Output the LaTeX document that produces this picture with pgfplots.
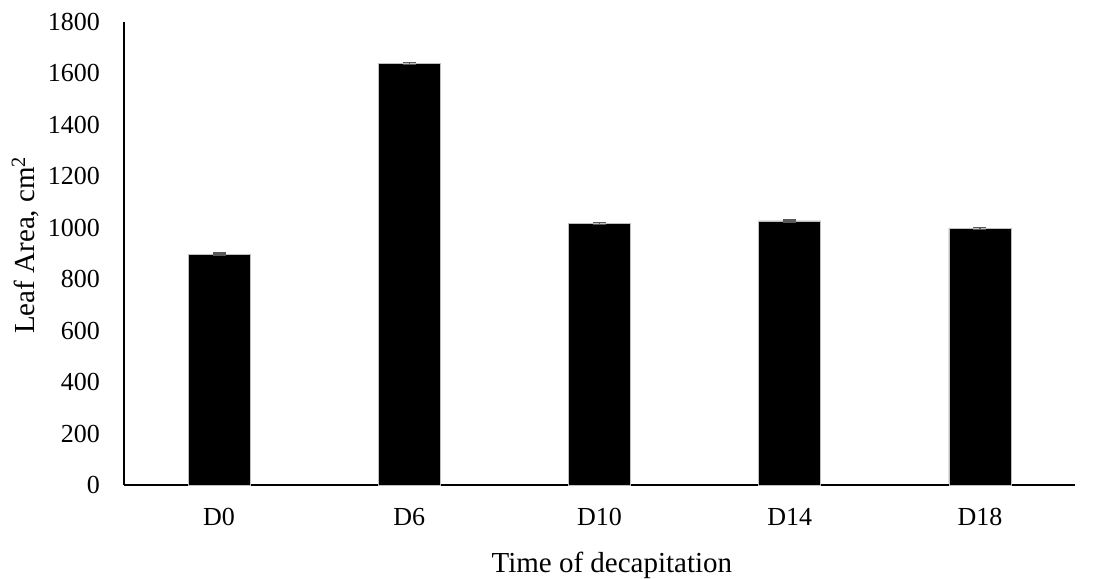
\documentclass[border=0pt]{standalone}
\usepackage{pgfplots}
\pgfplotsset{compat=1.18}
\usepackage{fontspec}
\setmainfont{Liberation Serif}
\begin{document}
\begin{tikzpicture}[x=1pt,y=1pt]
\useasboundingbox (0,0) rectangle (1097,578);
\begin{axis}[
  at={(124pt,93pt)}, anchor=south west,
  scale only axis, width=951pt, height=463pt,
  xmin=-0.5, xmax=4.5, ymin=0, ymax=1800,
  ytick={0,200,...,1800},
  xtick={0,1,2,3,4},
  xticklabels={D0,D6,D10,D14,D18},
  axis lines=left,
  axis line style={-, line width=1.2pt},
  major tick length=0pt,
  tick label style={font=\fontsize{26}{30}\selectfont},
  /pgf/number format/assume math mode=true,
  /pgf/number format/1000 sep={},
  yticklabel style={anchor=east, inner sep=0pt, xshift=-24pt},
  xticklabel style={anchor=base, inner sep=0pt, yshift=-40pt},
  ylabel={Leaf Area, cm\textsuperscript{2}},
  xlabel={Time of decapitation},
  label style={font=\fontsize{29}{34}\selectfont},
  ylabel style={at={(axis description cs:-0.0946,0.518)}, anchor=base, inner sep=0pt},
  xlabel style={at={(axis description cs:0.513,0)}, anchor=base, inner sep=0pt, yshift=-87pt},
  clip=false,
]
\addplot[ybar, bar width=62pt, fill=black, draw=gray!50, line width=0.5pt,
  error bars/.cd, y dir=both, y explicit,
  error bar style={gray!70!black, line width=1.6pt},
  error mark options={rotate=90, mark size=6.5pt, line width=1.6pt, gray!70!black}]
  coordinates {
  (0,898) +- (0,4)
  (1,1638) +- (0,4)
  (2,1017) +- (0,4)
  (3,1027) +- (0,4)
  (4,997) +- (0,4)
  };
\end{axis}
\end{tikzpicture}
\end{document}
